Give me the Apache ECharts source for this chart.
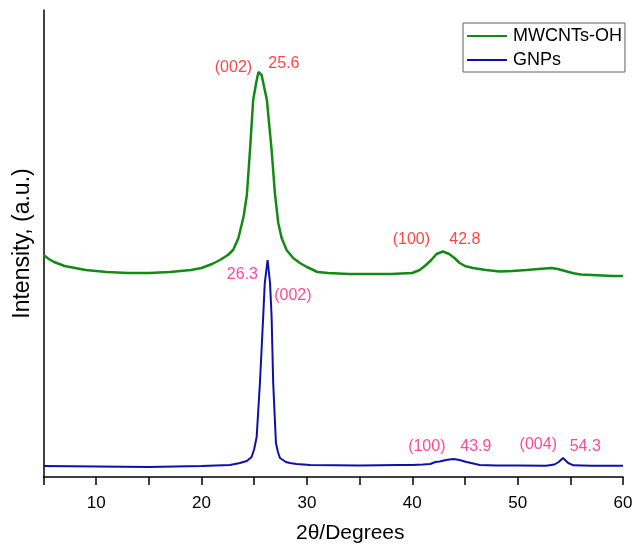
<!DOCTYPE html>
<html>
<head>
<meta charset="utf-8">
<script src="https://cdn.jsdelivr.net/npm/echarts@6/dist/echarts.min.js"></script>
<style>
  html, body { margin: 0; padding: 0; background: #ffffff; }
  #chart { width: 636px; height: 544px; }
</style>
</head>
<body>
<div id="chart"></div>
<script>
// XRD patterns of MWCNTs-OH and GNPs (intensity in arbitrary units)
var seriesNames = ['MWCNTs-OH', 'GNPs'];
var colors = ['#138a13', '#1010a8'];
var labelColors = ['#ff1414', '#ff1a80'];

// 2theta and intensity
var mwcntX = [5, 5.5, 6, 7, 8, 9, 10, 11, 12, 13, 14, 15, 16, 17, 18, 19, 20, 21, 21.75, 22.5, 23, 23.5, 24, 24.3, 24.6, 24.9, 25.2, 25.4, 25.55, 25.7, 25.86, 26.2, 26.65, 26.96, 27.28, 27.6, 28.07, 28.7, 29.33, 30, 31, 32, 33, 34, 35, 36, 37, 38, 39, 40, 40.7, 41.3, 41.8, 42.3, 42.9, 43.5, 44, 44.5, 45, 45.75, 47, 48.3, 49.5, 50.85, 52, 53.2, 53.8, 54.5, 55.3, 56, 57, 58, 59, 60];
var mwcntY = [222, 218, 215, 211, 209, 207, 206, 205, 204.5, 204, 204, 204, 204.5, 205, 206, 207, 209, 213, 217, 222, 227, 239, 261, 282, 327, 377, 395, 405, 407, 402, 394, 377, 327, 284, 254, 239, 227, 219, 214, 210, 205, 204, 203.5, 203, 203, 203, 203, 203, 203.5, 204, 207, 212, 217, 223, 225.5, 223, 219, 214, 211, 209, 207, 205.5, 206, 207, 208, 209, 208, 206, 203.7, 202.5, 202, 201.5, 201, 201];

var gnpX = [5, 10, 15, 20, 22.7, 23.64, 24.3, 24.75, 25, 25.23, 25.54, 25.85, 26, 26.27, 26.5, 26.65, 26.8, 27.06, 27.25, 27.44, 28, 28.39, 29, 30.3, 35, 38.8, 40, 41, 41.7, 42.2, 42.6, 43.2, 43.9, 44.5, 45.15, 45.8, 46.4, 48, 50, 52.7, 53.5, 53.9, 54.3, 54.6, 54.8, 55.3, 57, 60];
var gnpY = [11, 10.5, 10, 11, 12, 14, 16, 20, 28, 40, 94, 160, 194, 217, 194, 160, 94, 34, 25, 19, 15, 14, 13, 12, 11.5, 12, 12, 12.5, 13, 15, 15.5, 17, 18, 17, 15, 13.5, 12, 11.5, 11.5, 11.3, 12.5, 15, 19, 16, 14, 11.7, 11.3, 11.3];

// peak annotations: text, 2theta, intensity, which pattern
var annoText = ['(002)', '25.6', '(100)', '42.8', '26.3', '(002)', '(100)', '43.9', '(004)', '54.3'];
var annoX = [23.03, 27.82, 39.91, 44.99, 23.88, 28.67, 41.38, 46.03, 51.96, 56.42];
var annoY = [409, 413, 237, 237, 202, 181, 30, 30, 32, 30];
var annoSet = [0, 0, 0, 0, 1, 1, 1, 1, 1, 1];

var xTicks = [10, 20, 30, 40, 50, 60];

function pairs(xs, ys) {
  var out = [];
  for (var i = 0; i < xs.length; i++) {
    out.push([xs[i], ys[i]]);
  }
  return out;
}

var annoData = [];
for (var i = 0; i < annoText.length; i++) {
  annoData.push({
    value: [annoX[i], annoY[i]],
    label: { formatter: annoText[i], color: labelColors[annoSet[i]] }
  });
}

var chart = echarts.init(document.getElementById('chart'));

var option = {
  backgroundColor: '#ffffff',
  animation: false,
  textStyle: { fontFamily: 'Liberation Sans, Arial, sans-serif' },
  grid: { left: 43.5, right: 13, top: 10, bottom: 67, outerBoundsMode: 'none', containLabel: false },
  legend: {
    left: 463,
    top: 23,
    orient: 'vertical',
    padding: [4, 3, 3, 4],
    itemWidth: 40,
    itemHeight: 2,
    itemGap: 6,
    icon: 'rect',
    borderColor: '#606060',
    borderWidth: 1,
    data: seriesNames,
    textStyle: { fontSize: 18, color: '#000000', lineHeight: 18, padding: [0, 0, 0, 1] }
  },
  xAxis: {
    type: 'value',
    min: 5,
    max: 60,
    interval: 5,
    name: '2\u03b8/Degrees',
    nameLocation: 'middle',
    nameGap: 46,
    nameTextStyle: { fontSize: 21, color: '#000000', padding: [0, 0, 0, 34] },
    axisLine: { show: true, lineStyle: { color: '#000000', width: 1.5 } },
    axisTick: { show: true, inside: false, length: 8, lineStyle: { color: '#000000', width: 1.5 } },
    axisLabel: {
      fontSize: 17,
      color: '#000000',
      margin: 18,
      formatter: function (v) {
        return xTicks.indexOf(v) >= 0 ? String(v) : '';
      }
    },
    splitLine: { show: false }
  },
  yAxis: {
    type: 'value',
    min: 0,
    max: 467,
    name: 'Intensity, (a.u.)',
    nameLocation: 'middle',
    nameGap: 9,
    nameTextStyle: { fontSize: 23, color: '#000000' },
    axisLine: { show: true, lineStyle: { color: '#000000', width: 1.5 } },
    axisTick: { show: false },
    axisLabel: { show: false },
    splitLine: { show: false }
  },
  series: [
    {
      name: seriesNames[0],
      type: 'line',
      symbol: 'none',
      data: pairs(mwcntX, mwcntY),
      lineStyle: { color: colors[0], width: 2.5 },
      itemStyle: { color: colors[0] }
    },
    {
      name: seriesNames[1],
      type: 'line',
      symbol: 'none',
      data: pairs(gnpX, gnpY),
      lineStyle: { color: colors[1], width: 2 },
      itemStyle: { color: colors[1] }
    },
    {
      name: 'labels',
      type: 'scatter',
      symbolSize: 0,
      silent: true,
      data: annoData,
      label: {
        show: true,
        position: 'inside',
        fontSize: 16
      }
    }
  ]
};

chart.setOption(option);
</script>
</body>
</html>
